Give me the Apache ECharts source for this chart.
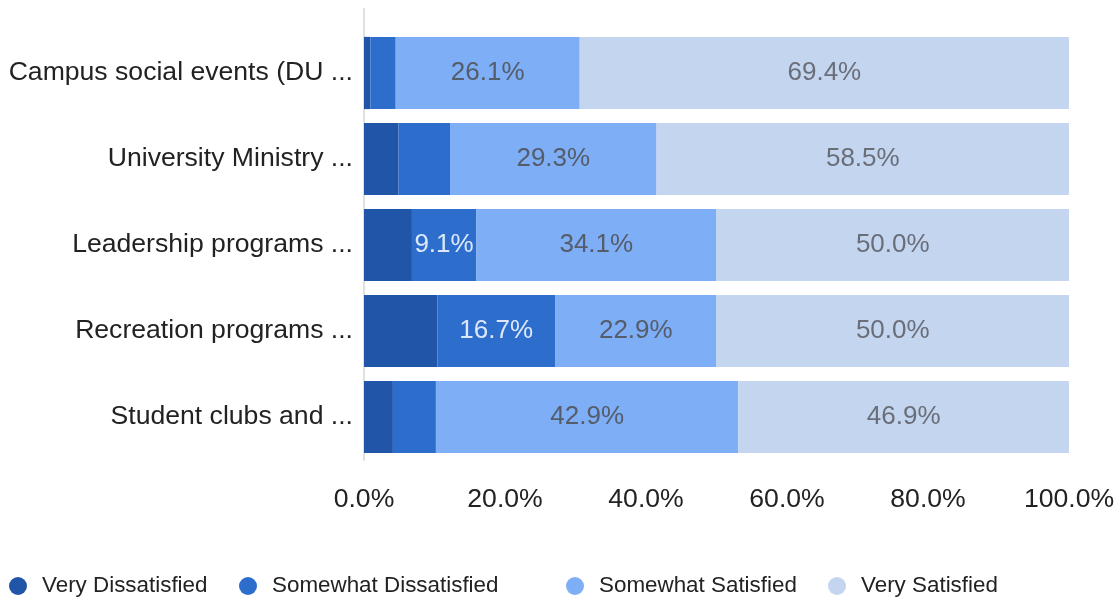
<!DOCTYPE html>
<html>
<head>
<meta charset="utf-8">
<script src="https://cdn.jsdelivr.net/npm/echarts@6/dist/echarts.min.js"></script>
<style>
html,body{margin:0;padding:0;background:#fff;}
#c{width:1119px;height:600px;}
</style>
</head>
<body>
<div id="c"></div>
<script>
const categories = [
  "Campus social events (DU ...",
  "University Ministry ...",
  "Leadership programs ...",
  "Recreation programs ...",
  "Student clubs and ..."
];
const seriesNames = ["Very Dissatisfied", "Somewhat Dissatisfied", "Somewhat Satisfied", "Very Satisfied"];
const veryDissatisfied = [0.9, 4.9, 6.8, 10.4, 4.1];
const somewhatDissatisfied = [3.6, 7.3, 9.1, 16.7, 6.1];
const somewhatSatisfied = [26.1, 29.3, 34.1, 22.9, 42.9];
const verySatisfied = [69.4, 58.5, 50.0, 50.0, 46.9];
const xTicks = [0, 20, 40, 60, 80, 100];

const values = [veryDissatisfied, somewhatDissatisfied, somewhatSatisfied, verySatisfied];
const colors = ["#2155a8", "#2d6dcc", "#7eaef6", "#c3d5ef"];
const labelColors = ["#dce8f9", "#dce8f9", "#555c6a", "#6a6e78"];
const FONT = "'Liberation Sans', Arial, sans-serif";
const LABEL_SIZE = 26;

const GRID = { left: 364, right: 50, top: 30, bottom: 140 };
const plotWidth = 1119 - GRID.left - GRID.right;

const ctx = document.createElement('canvas').getContext('2d');
ctx.font = LABEL_SIZE + "px " + FONT;
function fits(v) {
  const w = ctx.measureText(v.toFixed(1) + '%').width;
  return (v / 100) * plotWidth > w + 1;
}

const chart = echarts.init(document.getElementById('c'));
const series = values.map((arr, i) => ({
  name: seriesNames[i],
  type: 'bar',
  stack: 'total',
  barCategoryGap: '16%',
  itemStyle: { color: colors[i] },
  emphasis: { disabled: true },
  label: {
    show: true,
    position: 'inside',
    color: labelColors[i],
    fontSize: LABEL_SIZE,
    fontFamily: FONT,
    formatter: p => p.value.toFixed(1) + '%'
  },
  data: arr.map(v => ({ value: v, label: { show: fits(v) } }))
}));

const legendLefts = [4, 234, 561, 823];
const legends = seriesNames.map((n, i) => ({
  data: [n],
  left: legendLefts[i],
  top: 570,
  icon: 'circle',
  itemWidth: 18,
  itemHeight: 18,
  selectedMode: false,
  textStyle: { fontSize: 22.4, color: '#222', fontFamily: FONT, padding: [0, 0, 0, 10] }
}));

chart.setOption({
  animation: false,
  color: colors,
  grid: Object.assign({ containLabel: false }, GRID),
  legend: legends,
  graphic: [{
    type: 'line',
    silent: true,
    shape: { x1: GRID.left, y1: 8, x2: GRID.left, y2: GRID.top },
    style: { stroke: '#e0e0e0', lineWidth: 2 }
  }],
  xAxis: {
    type: 'value',
    min: 0,
    max: 100,
    interval: 20,
    axisLine: { show: false },
    axisTick: { show: false },
    splitLine: { show: false },
    axisLabel: {
      fontSize: 26.6,
      color: '#222',
      fontFamily: FONT,
      margin: 26,
      customValues: xTicks,
      formatter: v => v.toFixed(1) + '%'
    }
  },
  yAxis: {
    type: 'category',
    inverse: true,
    data: categories,
    axisLine: { show: true, lineStyle: { color: '#e0e0e0', width: 2 } },
    axisTick: { show: false },
    axisLabel: { fontSize: 26.6, color: '#222', fontFamily: FONT, margin: 11, padding: [6, 0, 0, 0] }
  },
  series: series
});
</script>
</body>
</html>
